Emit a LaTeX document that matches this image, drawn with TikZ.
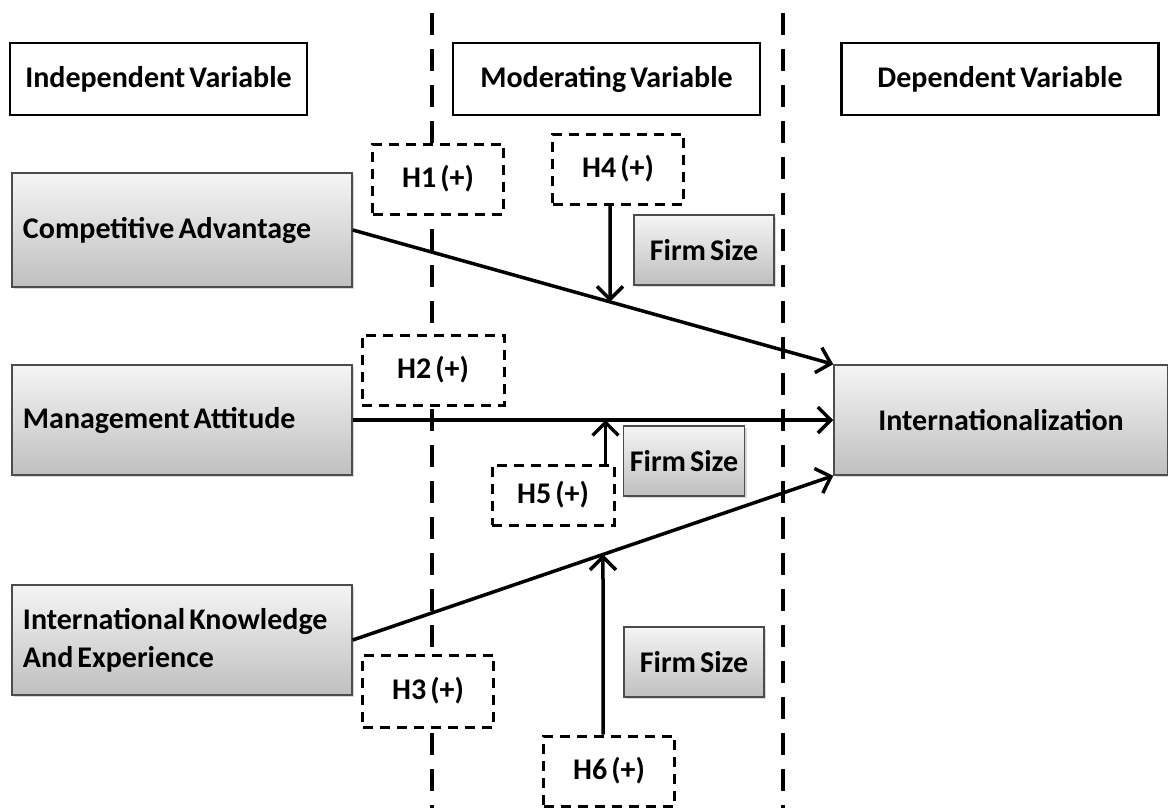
\documentclass[tikz,border=0pt]{standalone}
\usepackage{fontspec}
\setmainfont{Carlito}[WordSpace=0.6]
\usetikzlibrary{arrows.meta,shadows,intersections}

\begin{document}
\begin{tikzpicture}[x=1pt, y=-1pt,
	font=\fontsize{30}{38}\selectfont\bfseries,
	heading/.style={draw, line width=2.5pt, minimum width=#1, minimum height=72pt, inner sep=0pt},
	factor/.style={draw=black!70, line width=1.5pt, top color=gray!8, bottom color=gray!50,
		drop shadow={shadow xshift=2pt, shadow yshift=-2pt, opacity=0.3}, inner sep=0pt},
	construct/.style={factor, text width=318pt, align=flush left, inner xsep=11pt, minimum height=110pt},
	firmsize/.style={factor, minimum width=140pt, minimum height=70pt},
	hyp/.style={draw, line width=3pt, dash pattern=on 10pt off 7pt, fill=white,
		minimum width=131pt, minimum height=70pt, inner sep=0pt},
	border/.style={line width=4pt, dash pattern=on 22pt off 14pt},
	effect/.style={line width=3.5pt, -{Straight Barb[length=13pt, width=26pt]}}
	]
	\clip (0,0) rectangle (1168,807);
	\draw[border] (432,13) -- (432,810);
	\draw[border] (783,13) -- (783,810);
	
	\node[heading=297pt] (indep) at (158.5,79) {Independent Variable};
	\node[heading=307pt] (moder) at (606.5,79) {Moderating Variable};
	\node[heading=317pt] (dep) at (1000,79) {Dependent Variable};
	
	\node[construct, minimum height=114pt] (compet) at (182,230) {Competitive Advantage};
	\node[construct] (manage) at (182,420) {Management Attitude};
	\node[construct] (know) at (182,640) {International Knowledge\\And Experience};
	\node[factor, minimum width=334pt, minimum height=110pt] (inter) at (1001,420) {Internationalization};
	
	\node[firmsize] (fs1) at (704,250) {Firm Size};
	\node[firmsize, minimum width=121pt] (fs2) at (684,461) {Firm Size};
	\node[firmsize] (fs3) at (694,662) {Firm Size};
	
	\node[hyp] (h1) at (438,179) {H1 (+)};
	\node[hyp, minimum width=142pt] (h2) at (433,370) {H2 (+)};
	\node[hyp, minimum height=72pt] (h3) at (428,691) {H3 (+)};
	\node[hyp] (h4) at (618,169) {H4 (+)};
	\node[hyp, minimum width=122pt, minimum height=60pt] (h5) at (553,495) {H5 (+)};
	\node[hyp] (h6) at (609,771) {H6 (+)};
	
	\draw[effect, name path=ca] (compet.east) -- (inter.north west);
	\draw[effect] (manage.east) -- (inter.west);
	\draw[effect, name path=ke] (know.east) -- (inter.south west);
	
	\path[name path=v4] ([xshift=-8pt]h4.south) -- ++(0,150);
	\draw[effect, name intersections={of=ca and v4, by=m4}] ([xshift=-8pt]h4.south) -- (m4);
	\coordinate (s5) at ([xshift=-10pt]h5.north east);
	\draw[effect] (s5) -- (s5 |- manage.east);
	\path[name path=v6] ([xshift=-6pt]h6.north) -- ++(0,-250);
	\draw[effect, name intersections={of=ke and v6, by=m6}] ([xshift=-6pt]h6.north) -- (m6);
\end{tikzpicture}
\end{document}
